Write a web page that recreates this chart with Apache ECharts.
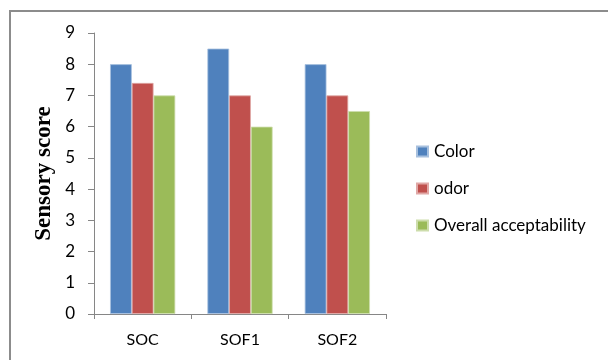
<!DOCTYPE html>
<html>
<head>
<meta charset="utf-8">
<script src="https://cdn.jsdelivr.net/npm/echarts@6/dist/echarts.min.js"></script>
<style>
  html, body { margin: 0; padding: 0; background: #fff; }
  #chart { width: 608px; height: 360px; }
</style>
</head>
<body>
<div id="chart"></div>
<script>
// Sample groups along the x axis
const categories = ['SOC', 'SOF1', 'SOF2'];

// Sensory attribute scores per sample
const colorScores = [8, 8.5, 8];
const odorScores = [7.4, 7, 7];
const overallScores = [7, 6, 6.5];

const seriesNames = ['Color', 'odor', 'Overall acceptability'];
const yTicks = { min: 0, max: 9, interval: 1 };

const palette = ['#4F81BD', '#C0504D', '#9BBB59'];
const edges = ['#A7C0DE', '#E0A8A6', '#CDDDAC'];
const labelFont = 'Lato, "Liberation Sans", sans-serif';
const axisGrey = '#868686';

const chart = echarts.init(document.getElementById('chart'), null, { renderer: 'canvas' });

const values = [colorScores, odorScores, overallScores];

chart.setOption({
  animation: false,
  backgroundColor: '#ffffff',
  graphic: [{
    type: 'rect',
    shape: { x: 10, y: 11, width: 700, height: 400 },
    style: { fill: 'none', stroke: '#8c8c8c', lineWidth: 2 },
    silent: true
  }],
  grid: { left: 94, right: 222, top: 33, bottom: 46, containLabel: false },
  legend: {
    orient: 'vertical',
    left: 411,
    top: 138,
    itemWidth: 11,
    itemHeight: 10,
    itemGap: 20,
    icon: 'rect',
    textStyle: { fontFamily: labelFont, fontSize: 17, color: '#000', padding: [0, 0, 0, 1] },
    data: seriesNames
  },
  xAxis: {
    type: 'category',
    data: categories,
    axisLine: { lineStyle: { color: axisGrey, width: 1 } },
    axisTick: { show: true, length: 5, lineStyle: { color: axisGrey } },
    axisLabel: { fontFamily: labelFont, fontSize: 16, color: '#000', margin: 18 }
  },
  yAxis: {
    type: 'value',
    min: yTicks.min,
    max: yTicks.max,
    interval: yTicks.interval,
    name: 'Sensory score',
    nameLocation: 'middle',
    nameRotate: 90,
    nameGap: 38,
    nameTextStyle: {
      fontFamily: '"Liberation Serif", "Times New Roman", serif',
      fontWeight: 'bold',
      fontSize: 23,
      color: '#000'
    },
    axisLine: { show: true, lineStyle: { color: axisGrey, width: 1 } },
    axisTick: { show: true, length: 6, lineStyle: { color: axisGrey } },
    splitLine: { show: false },
    axisLabel: { fontFamily: labelFont, fontSize: 17, color: '#000', margin: 19 }
  },
  series: seriesNames.map((name, i) => ({
    name: name,
    type: 'bar',
    data: values[i],
    barGap: '0%',
    barCategoryGap: '33%',
    itemStyle: { color: palette[i], borderColor: edges[i], borderWidth: 0.8 }
  }))
});
</script>
</body>
</html>
